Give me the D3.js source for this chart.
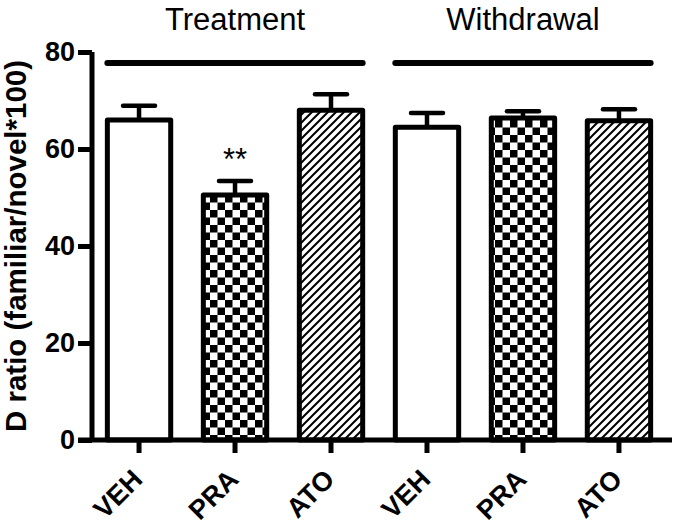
<!DOCTYPE html>
<html>
<head>
<meta charset="utf-8">
<script src="https://cdn.jsdelivr.net/npm/d3@7"></script>
<style>
  html, body { margin: 0; padding: 0; background: #fff; }
  svg { display: block; font-family: "Liberation Sans", Arial, sans-serif; }
</style>
</head>
<body>
<div class="container_graph"></div>
<script>
const phases = ["Treatment", "Withdrawal"];
const drugs = ["VEH", "PRA", "ATO"];
const means = [66.0, 50.5, 68.0, 64.5, 66.4, 65.8];
const sems = [2.9, 2.9, 3.3, 2.9, 1.4, 2.4];
const marks = ["", "**", "", "", "", ""];
const yTicks = [0, 20, 40, 60, 80];

const width = 683;
const height = 531;
const margin = { top: 52, right: 11, bottom: 91, left: 92 };

const data = means.map((m, i) => ({
  key: phases[Math.floor(i / drugs.length)] + "-" + drugs[i % drugs.length],
  phase: phases[Math.floor(i / drugs.length)],
  drug: drugs[i % drugs.length],
  mean: m,
  sem: sems[i],
  mark: marks[i]
}));

const fillFor = { VEH: "#fff", PRA: "url(#checker)", ATO: "url(#hatch)" };

const svg = d3
  .select(".container_graph")
  .append("svg")
  .attr("width", width)
  .attr("height", height);

const defs = svg.append("defs");
const checker = defs
  .append("pattern")
  .attr("id", "checker")
  .attr("patternUnits", "userSpaceOnUse")
  .attr("width", 15)
  .attr("height", 15);
checker.append("rect").attr("width", 15).attr("height", 15).attr("fill", "#fff");
checker.append("rect").attr("width", 7.5).attr("height", 7.5).attr("fill", "#000");
checker.append("rect").attr("x", 7.5).attr("y", 7.5).attr("width", 7.5).attr("height", 7.5).attr("fill", "#000");

const hatch = defs
  .append("pattern")
  .attr("id", "hatch")
  .attr("patternUnits", "userSpaceOnUse")
  .attr("width", 8)
  .attr("height", 8);
hatch.append("rect").attr("width", 8).attr("height", 8).attr("fill", "#fff");
hatch
  .append("path")
  .attr("d", "M-2,2 L2,-2 M0,8 L8,0 M6,10 L10,6")
  .attr("stroke", "#000")
  .attr("stroke-width", 2);

const xScale = d3
  .scaleBand()
  .domain(data.map((d) => d.key))
  .range([margin.left, width - margin.right - 6])
  .paddingInner(0.34)
  .paddingOuter(0.16);

const yScale = d3
  .scaleLinear()
  .domain([0, 80])
  .range([height - margin.bottom, margin.top]);

const y0 = yScale(0);

// y axis
const gy = svg
  .append("g")
  .attr("transform", `translate(${margin.left},0)`)
  .call(d3.axisLeft(yScale).tickValues(yTicks).tickSize(14).tickSizeOuter(0).tickPadding(3));
gy.select(".domain").attr("stroke-width", 5).attr("d", `M0,${yScale(80)}V${y0}`);
gy.selectAll(".tick line").attr("stroke-width", 5);
gy.selectAll(".tick text")
  .attr("font-size", 27)
  .attr("font-weight", "bold")
  .attr("font-family", "Liberation Sans, Arial, sans-serif")
  .attr("fill", "#000");

// bars
svg
  .selectAll("rect.bar")
  .data(data)
  .enter()
  .append("rect")
  .attr("class", "bar")
  .attr("x", (d) => xScale(d.key))
  .attr("y", (d) => yScale(d.mean))
  .attr("width", xScale.bandwidth())
  .attr("height", (d) => y0 - yScale(d.mean))
  .attr("fill", (d) => fillFor[d.drug])
  .attr("stroke", "#000")
  .attr("stroke-width", 5)
  .attr("stroke-linejoin", "round");

// error bars
const err = svg.append("g").attr("stroke", "#000").attr("stroke-width", 4.5);
err
  .selectAll("line.stem")
  .data(data)
  .enter()
  .append("line")
  .attr("x1", (d) => xScale(d.key) + xScale.bandwidth() / 2)
  .attr("x2", (d) => xScale(d.key) + xScale.bandwidth() / 2)
  .attr("y1", (d) => yScale(d.mean))
  .attr("y2", (d) => yScale(d.mean + d.sem));
err
  .selectAll("line.cap")
  .data(data)
  .enter()
  .append("line")
  .attr("stroke-linecap", "round")
  .attr("x1", (d) => xScale(d.key) + xScale.bandwidth() / 2 - 16)
  .attr("x2", (d) => xScale(d.key) + xScale.bandwidth() / 2 + 16)
  .attr("y1", (d) => yScale(d.mean + d.sem))
  .attr("y2", (d) => yScale(d.mean + d.sem));

// significance marks
svg
  .selectAll("text.mark")
  .data(data.filter((d) => d.mark))
  .enter()
  .append("text")
  .attr("x", (d) => xScale(d.key) + xScale.bandwidth() / 2)
  .attr("y", (d) => yScale(d.mean + d.sem) - 11)
  .attr("text-anchor", "middle")
  .attr("font-size", 31)
  .text((d) => d.mark);

// x axis
const gx = svg
  .append("g")
  .attr("transform", `translate(0,${y0})`)
  .call(d3.axisBottom(xScale).tickSize(13).tickSizeOuter(0).tickFormat(""));
gx.select(".domain").remove();
gx.selectAll(".tick line").attr("stroke-width", 5);
gx.selectAll(".tick text").remove();

svg
  .append("line")
  .attr("x1", margin.left - 14)
  .attr("x2", width - margin.right + 6 - 6)
  .attr("y1", y0)
  .attr("y2", y0)
  .attr("stroke", "#000")
  .attr("stroke-width", 5);

svg
  .selectAll("text.xlabel")
  .data(data)
  .enter()
  .append("text")
  .attr("class", "xlabel")
  .attr("text-anchor", "end")
  .attr("font-size", 27)
  .attr("font-weight", "bold")
  .attr("transform", (d) => `translate(${xScale(d.key) + xScale.bandwidth() / 2 + 5},${y0 + 41}) rotate(-45)`)
  .text((d) => d.drug);

// group lines and titles
const groups = phases.map((p) => {
  const keys = data.filter((d) => d.phase === p).map((d) => d.key);
  return { phase: p, x1: xScale(keys[0]), x2: xScale(keys[keys.length - 1]) + xScale.bandwidth() };
});

svg
  .selectAll("line.group")
  .data(groups)
  .enter()
  .append("line")
  .attr("x1", (d) => d.x1)
  .attr("x2", (d) => d.x2)
  .attr("y1", 63)
  .attr("y2", 63)
  .attr("stroke", "#000")
  .attr("stroke-width", 6)
  .attr("stroke-linecap", "round");

svg
  .selectAll("text.group")
  .data(groups)
  .enter()
  .append("text")
  .attr("x", (d) => (d.x1 + d.x2) / 2)
  .attr("y", 30)
  .attr("text-anchor", "middle")
  .attr("font-size", 31)
  .text((d) => d.phase);

svg
  .append("text")
  .attr("transform", `translate(26,${(yScale(0) + yScale(80)) / 2}) rotate(-90)`)
  .attr("text-anchor", "middle")
  .attr("font-size", 29.5)
  .attr("font-weight", "bold")
  .text("D ratio (familiar/novel*100)");
</script>
</body>
</html>
